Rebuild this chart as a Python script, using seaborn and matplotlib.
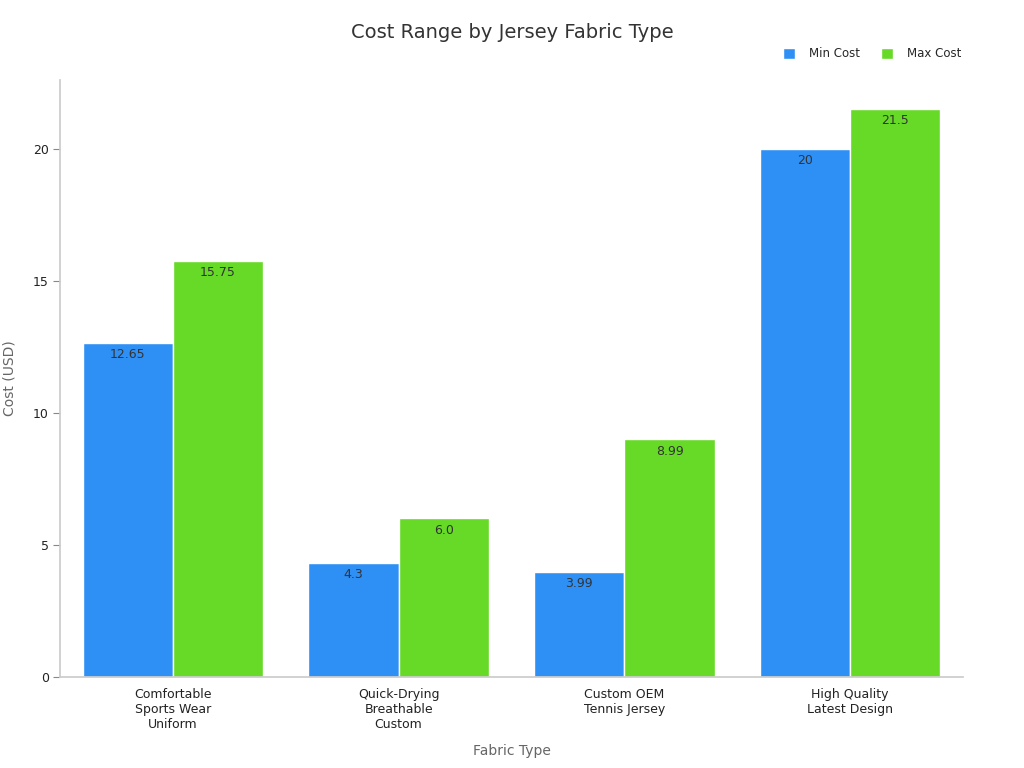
import matplotlib
matplotlib.use("Agg")
import matplotlib.pyplot as plt
import seaborn as sns
import pandas as pd

categories = ["Comfortable\nSports Wear\nUniform", "Quick-Drying\nBreathable\nCustom",
              "Custom OEM\nTennis Jersey", "High Quality\nLatest Design"]
min_cost = [12.65, 4.3, 3.99, 20]
max_cost = [15.75, 6.0, 8.99, 21.5]
min_labels = ["12.65", "4.3", "3.99", "20"]
max_labels = ["15.75", "6.0", "8.99", "21.5"]
series = ["Min Cost", "Max Cost"]
colors = ["#2E90F5", "#66DA26"]

df = pd.DataFrame({
    "Fabric Type": categories * 2,
    "Cost": min_cost + max_cost,
    "Series": [series[0]] * 4 + [series[1]] * 4,
})

sns.set_theme(style="white")
plt.rcParams['font.family'] = ['DejaVu Sans']

fig = plt.figure(figsize=(10.24, 7.68), dpi=100)
ax = fig.add_axes([0.0586, 0.1185, 0.8818, 0.7775])
sns.barplot(data=df, x="Fabric Type", y="Cost", hue="Series", palette=colors,
            saturation=1, width=0.8, edgecolor="white", linewidth=1, ax=ax, legend=True)

for cont, labs in zip(ax.containers, [min_labels, max_labels]):
    ax.bar_label(cont, labels=labs, label_type="edge", padding=-13, color="#333333", fontsize=9)

ax.set_xlim(-0.5, 3.5)
ax.set_ylim(0, 22.6)
ax.set_yticks([0, 5, 10, 15, 20])
ax.tick_params(axis="both", labelsize=9, colors="#222222")
ax.tick_params(axis="x", length=0, pad=8)
ax.tick_params(axis="y", left=True, length=5, width=0.8, color="#888888", pad=3)
for s in ["top", "right"]:
    ax.spines[s].set_visible(False)
for s in ["left", "bottom"]:
    ax.spines[s].set_color("#cccccc")
ax.set_xlabel("Fabric Type", fontsize=10, color="#666666", labelpad=9)
ax.set_ylabel("Cost (USD)", fontsize=10, color="#666666", labelpad=12)
fig.suptitle("Cost Range by Jersey Fabric Type", fontsize=14, color="#333333", y=0.97)

leg = ax.legend(loc="lower right", bbox_to_anchor=(1.01, 1.015), ncol=2, frameon=False,
                fontsize=8.5, handlelength=1, handleheight=1, columnspacing=1.8, handletextpad=1.2)

fig.savefig("out.png", dpi=100)
